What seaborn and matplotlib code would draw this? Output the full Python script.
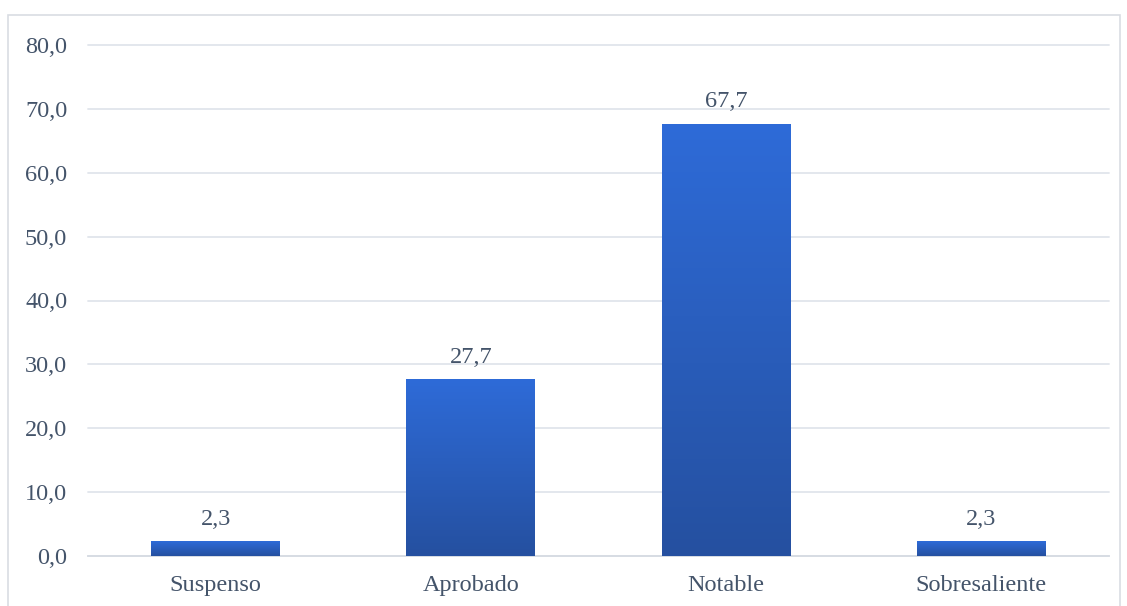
import numpy as np
import pandas as pd
import matplotlib
matplotlib.use("Agg")
import matplotlib.pyplot as plt
import seaborn as sns
from matplotlib.colors import LinearSegmentedColormap
from matplotlib.patches import Rectangle

categories = ["Suspenso", "Aprobado", "Notable", "Sobresaliente"]
values = [2.3, 27.7, 67.7, 2.3]
y_ticks = [0, 10, 20, 30, 40, 50, 60, 70, 80]

text_color = "#44546a"
grid_color = "#e1e5ec"

sns.set_theme(style="white")
plt.rcParams["font.family"] = ["Liberation Serif", "DejaVu Serif"]

df = pd.DataFrame({"categoria": categories, "valor": values})

fig = plt.figure(figsize=(11.27, 6.06), dpi=100)
ax = fig.add_axes([88 / 1127, 50 / 606, (1109 - 88) / 1127, (556 - 45) / 606])

sns.barplot(data=df, x="categoria", y="valor", color="#2b63c8", width=0.505,
            ax=ax, zorder=3)

# gradient fill for each bar
cmap = LinearSegmentedColormap.from_list("excel_blue", ["#2550a0", "#2e6bd8"])
grad = np.linspace(0, 1, 256).reshape(-1, 1)
for patch in ax.patches:
    x0, y0 = patch.get_x(), patch.get_y()
    w, h = patch.get_width(), patch.get_height()
    patch.set_facecolor("none")
    patch.set_edgecolor("none")
    im = ax.imshow(grad, cmap=cmap, origin="lower", aspect="auto",
                   extent=[x0, x0 + w, y0, y0 + h], zorder=3)
    im.set_clip_path(patch)

ax.set_xlim(-0.5, len(categories) - 0.5)
ax.set_ylim(0, 80)
ax.set_yticks(y_ticks)
ax.set_yticklabels([f"{t:.1f}".replace(".", ",") for t in y_ticks])
ax.yaxis.grid(True, color=grid_color, linewidth=1.3, zorder=0)
for gl in ax.get_ygridlines():
    gl.set_clip_on(False)
ax.set_axisbelow(True)
for s in ["top", "right", "left"]:
    ax.spines[s].set_visible(False)
ax.spines["bottom"].set_color("#d6dbe3")
ax.spines["bottom"].set_linewidth(1.3)

ax.tick_params(axis="both", length=0, labelsize=17.5, colors=text_color)
ax.tick_params(axis="y", pad=15)
ax.tick_params(axis="x", pad=14)
ax.set_xlabel("")
ax.set_ylabel("")

for i, v in enumerate(values):
    ax.annotate(f"{v:.1f}".replace(".", ","), (i, v), xytext=(0, 8),
                textcoords="offset points", ha="center", va="bottom",
                fontsize=17.5, color=text_color)

# outer chart border
fig.add_artist(Rectangle((8 / 1127, -0.01), (1120 - 8) / 1127, (606 - 15) / 606 + 0.01,
                         transform=fig.transFigure, fill=False,
                         edgecolor="#d9dde3", linewidth=1.2))

fig.savefig("out.png", dpi=100, facecolor="white")
